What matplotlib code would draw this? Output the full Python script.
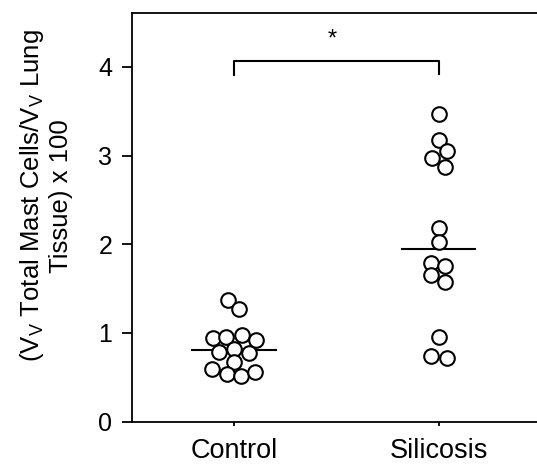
import numpy as np
import matplotlib
matplotlib.use('Agg')
import matplotlib.pyplot as plt

plt.rcParams['font.family'] = ['Liberation Sans', 'DejaVu Sans']

groups = ['Control', 'Silicosis']

control_vals = [1.37, 1.27, 0.94, 0.96, 0.98, 0.92, 0.79, 0.82, 0.78,
                0.67, 0.59, 0.54, 0.52, 0.565]
control_dx = [-0.028, 0.026, -0.105, -0.039, 0.038, 0.107, -0.075, 0.0,
              0.072, 0.0, -0.108, -0.036, 0.034, 0.103]

silicosis_vals = [3.47, 3.18, 3.05, 2.97, 2.87, 2.18, 2.02, 1.79, 1.76,
                  1.655, 1.576, 0.95, 0.74, 0.716]
silicosis_dx = [0.0, 0.0, 0.042, -0.032, 0.033, 0.0, 0.0, -0.035, 0.033,
                -0.035, 0.03, 0.0, -0.035, 0.042]

means = [0.81, 1.95]
mean_halfwidth = [0.205, 0.178]

fig = plt.figure(figsize=(5.37, 4.65), dpi=100)
ax = fig.add_axes([0.2453, 0.0931, 0.762, 0.8796])

for i, (vals, dx) in enumerate([(control_vals, control_dx),
                                (silicosis_vals, silicosis_dx)]):
    x = i + 1 + np.array(dx)
    ax.plot(x, vals, 'o', ms=10.5, mfc='white', mec='black', mew=1.5,
            linestyle='none', zorder=3)
    ax.plot([i + 1 - mean_halfwidth[i], i + 1 + mean_halfwidth[i]],
            [means[i], means[i]], color='black', lw=1.5, zorder=2)

# significance bracket
ax.plot([1, 1, 2, 2], [3.91, 4.07, 4.07, 3.92], color='black', lw=1.5,
        clip_on=False)
ax.text(1.48, 4.31, '*', ha='center', va='center', fontsize=17)

ax.set_xlim(0.5, 2.5)
ax.set_ylim(0, 4.61)
ax.set_xticks([1, 2])
ax.set_xticklabels(groups, fontsize=19.5)
ax.set_yticks([0, 1, 2, 3, 4])
ax.tick_params(axis='y', labelsize=18, length=7, width=1.3, pad=7)
ax.tick_params(axis='x', length=3, width=1.3, pad=8.5)
ax.spines['right'].set_visible(False)
for s in ['left', 'top', 'bottom']:
    ax.spines[s].set_linewidth(1.3)

ax.set_ylabel('(V$_\\mathregular{V}$ Total Mast Cells/V$_\\mathregular{V}$ Lung\nTissue) x 100',
              fontsize=18.5, linespacing=1.15, va='center', ha='center')
ax.yaxis.set_label_coords(-0.21, 0.552)

fig.savefig('out.png', dpi=100)
